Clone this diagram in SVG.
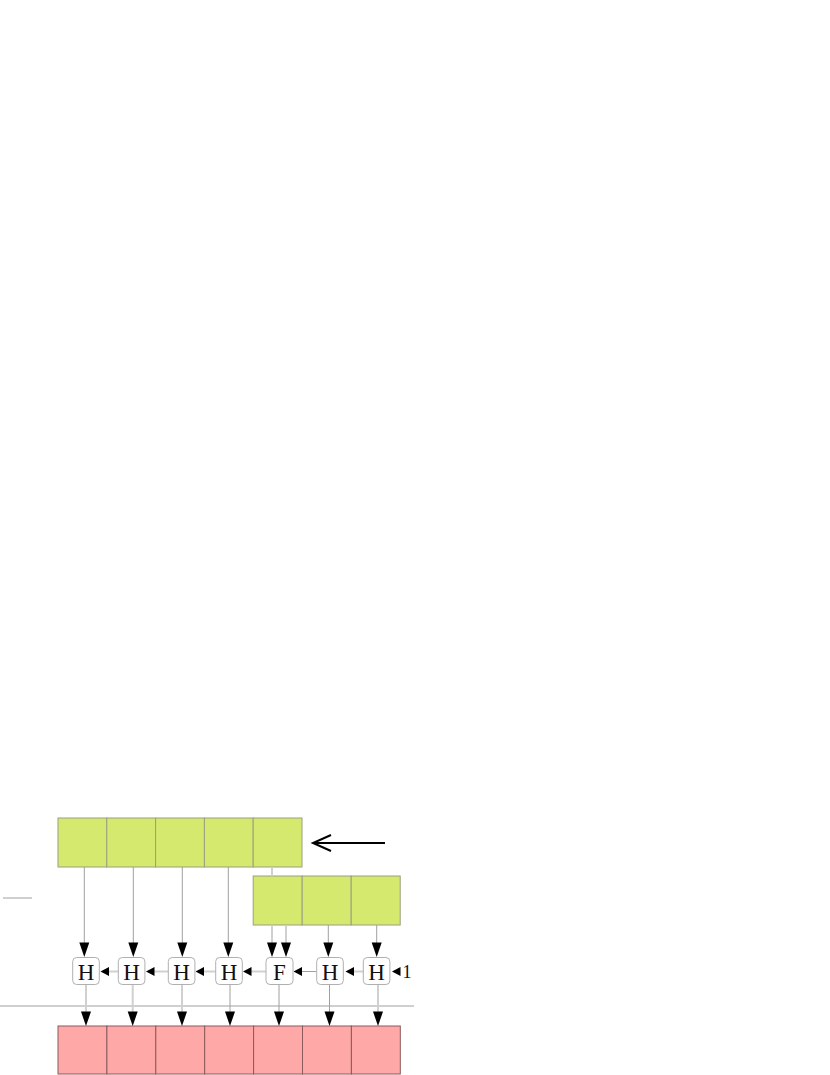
<svg xmlns="http://www.w3.org/2000/svg" width="830" height="1075" viewBox="0 0 830 1075">
<style>
.g{fill:#d5e96f;stroke:#9a9f80;stroke-width:1}
.r{fill:#ffa8a8;stroke:#8a5a5a;stroke-width:1}
.n{fill:#fff;stroke:#b0b0b0;stroke-width:1}
.t{font-family:"Liberation Serif","DejaVu Serif",serif;font-size:23px;fill:#111;text-anchor:middle}
.l{stroke:#a0a0a0;stroke-width:1;fill:none}
.ll{stroke:#d0d0d0;stroke-width:2;fill:none}
.ah{fill:#000}
</style>
<defs>
<path id="dn" d="M-5,-14.5 L5,-14.5 L0,0 Z"/>
<path id="lf" d="M8.5,-4.5 L8.5,4.5 L0,0 Z"/>
</defs>
<g id="green-top">
<rect class="g" x="58" y="818" width="48.8" height="49"/>
<rect class="g" x="106.8" y="818" width="48.8" height="49"/>
<rect class="g" x="155.6" y="818" width="48.8" height="49"/>
<rect class="g" x="204.4" y="818" width="48.8" height="49"/>
<rect class="g" x="253.2" y="818" width="48.8" height="49"/>
</g>
<g id="green-second">
<rect class="g" x="253.2" y="876" width="49" height="49"/>
<rect class="g" x="302.2" y="876" width="49" height="49"/>
<rect class="g" x="351.2" y="876" width="49" height="49"/>
</g>
<g id="red-row">
<rect class="r" x="58" y="1026" width="48.9" height="48"/>
<rect class="r" x="106.9" y="1026" width="48.9" height="48"/>
<rect class="r" x="155.8" y="1026" width="48.9" height="48"/>
<rect class="r" x="204.7" y="1026" width="48.9" height="48"/>
<rect class="r" x="253.6" y="1026" width="48.9" height="48"/>
<rect class="r" x="302.5" y="1026" width="48.9" height="48"/>
<rect class="r" x="351.4" y="1026" width="48.9" height="48"/>
</g>
<g id="connectors">
<line class="l" x1="3" y1="898" x2="32" y2="898"/>
<line class="l" x1="0" y1="1006" x2="414" y2="1006"/>
<line stroke="#000" stroke-width="2" x1="385" y1="843" x2="314" y2="843"/>
<polyline stroke="#000" stroke-width="2" fill="none" points="331,835 313,843 331,851"/>
<line class="l" x1="84.3" y1="867" x2="84.3" y2="945"/>
<line class="l" x1="133.3" y1="867" x2="133.3" y2="945"/>
<line class="l" x1="182.3" y1="867" x2="182.3" y2="945"/>
<line class="l" x1="228.3" y1="867" x2="228.3" y2="945"/>
<line class="ll" x1="272" y1="867" x2="272" y2="876"/>
<line class="ll" x1="272" y1="925" x2="272" y2="945"/>
<line class="ll" x1="286" y1="925" x2="286" y2="945"/>
<line class="l" x1="328.3" y1="925" x2="328.3" y2="945"/>
<line class="l" x1="376.7" y1="925" x2="376.7" y2="945"/>
<use href="#dn" class="ah" x="84.3" y="957"/>
<use href="#dn" class="ah" x="133.3" y="957"/>
<use href="#dn" class="ah" x="182.3" y="957"/>
<use href="#dn" class="ah" x="228.3" y="957"/>
<use href="#dn" class="ah" x="272" y="957"/>
<use href="#dn" class="ah" x="286" y="957"/>
<use href="#dn" class="ah" x="328.3" y="957"/>
<use href="#dn" class="ah" x="376.7" y="957"/>
<line class="ll" x1="118" y1="971.5" x2="108" y2="971.5"/>
<line class="ll" x1="168" y1="971.5" x2="154" y2="971.5"/>
<line class="ll" x1="215.5" y1="971.5" x2="203" y2="971.5"/>
<line class="ll" x1="266" y1="971.5" x2="250" y2="971.5"/>
<line class="l" x1="316.5" y1="971.5" x2="301" y2="971.5"/>
<line class="ll" x1="363" y1="971.5" x2="353" y2="971.5"/>
<use href="#lf" class="ah" x="100.5" y="971.5"/>
<use href="#lf" class="ah" x="146" y="971.5"/>
<use href="#lf" class="ah" x="195.5" y="971.5"/>
<use href="#lf" class="ah" x="243" y="971.5"/>
<use href="#lf" class="ah" x="293.5" y="971.5"/>
<use href="#lf" class="ah" x="345.5" y="971.5"/>
<use href="#lf" class="ah" x="392" y="971.5"/>
<line class="ll" x1="86" y1="984.5" x2="86" y2="1013"/>
<line class="ll" x1="132.7" y1="984.5" x2="132.7" y2="1013"/>
<line class="ll" x1="182" y1="984.5" x2="182" y2="1013"/>
<line class="l" x1="230" y1="984.5" x2="230" y2="1013"/>
<line class="l" x1="279" y1="984.5" x2="279" y2="1013"/>
<line class="l" x1="329.5" y1="984.5" x2="329.5" y2="1013"/>
<line class="ll" x1="378" y1="984.5" x2="378" y2="1013"/>
<use href="#dn" class="ah" x="86" y="1026"/>
<use href="#dn" class="ah" x="132.7" y="1026"/>
<use href="#dn" class="ah" x="182" y="1026"/>
<use href="#dn" class="ah" x="230" y="1026"/>
<use href="#dn" class="ah" x="279" y="1026"/>
<use href="#dn" class="ah" x="329.5" y="1026"/>
<use href="#dn" class="ah" x="378" y="1026"/>
</g>
<g id="node-h1"><rect class="n" x="72.7" y="957.5" width="26.6" height="27" rx="4"/><text class="t" x="86" y="979.5">H</text></g>
<g id="node-h2"><rect class="n" x="118.3" y="957.5" width="26.6" height="27" rx="4"/><text class="t" x="131.6" y="979.5">H</text></g>
<g id="node-h3"><rect class="n" x="168.3" y="957.5" width="26.6" height="27" rx="4"/><text class="t" x="181.6" y="979.5">H</text></g>
<g id="node-h4"><rect class="n" x="215.7" y="957.5" width="26.6" height="27" rx="4"/><text class="t" x="229" y="979.5">H</text></g>
<g id="node-f"><rect class="n" x="266" y="957.5" width="27" height="27" rx="4"/><text class="t" x="279.5" y="979.5">F</text></g>
<g id="node-h6"><rect class="n" x="316.7" y="957.5" width="26.6" height="27" rx="4"/><text class="t" x="330" y="979.5">H</text></g>
<g id="node-h7"><rect class="n" x="363.3" y="957.5" width="26.6" height="27" rx="4"/><text class="t" x="376.6" y="979.5">H</text></g>
<g id="label-1"><text class="t" x="407" y="978" style="font-size:18px">1</text></g>
</svg>
